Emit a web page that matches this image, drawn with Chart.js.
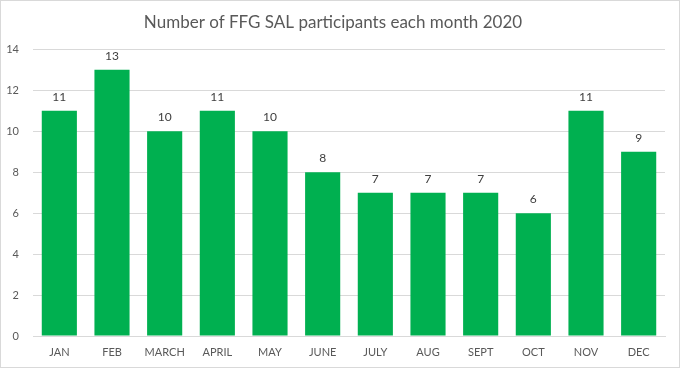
<!DOCTYPE html>
<html>
<head>
<meta charset="utf-8">
<script src="https://cdn.jsdelivr.net/npm/chart.js@4/dist/chart.umd.min.js"></script>
<style>
html,body{margin:0;padding:0;background:#fff;}
#wrap{width:678px;height:366px;border:1px solid #d9d9d9;position:relative;}
</style>
</head>
<body>
<div id="wrap"><canvas id="c" width="678" height="366"></canvas></div>
<script>
const months = ["JAN","FEB","MARCH","APRIL","MAY","JUNE","JULY","AUG","SEPT","OCT","NOV","DEC"];
const participants = [11,13,10,11,10,8,7,7,7,6,11,9];
const yTicks = [0,2,4,6,8,10,12,14];
const titleText = "Number of FFG SAL participants each month 2020";

const FONT = "Lato, 'Liberation Sans', sans-serif";

const labelPlugin = {
  id: 'barLabels',
  afterDatasetsDraw(chart) {
    const ctx = chart.ctx;
    const meta = chart.getDatasetMeta(0);
    ctx.save();
    ctx.font = "12px " + FONT;
    ctx.fillStyle = "#404040";
    ctx.textAlign = "center";
    ctx.textBaseline = "middle";
    meta.data.forEach((bar, i) => {
      ctx.fillText(String(chart.data.datasets[0].data[i]), bar.x, bar.y - 14);
    });
    ctx.restore();
  }
};

new Chart(document.getElementById('c'), {
  type: 'bar',
  data: {
    labels: months,
    datasets: [{
      data: participants,
      backgroundColor: '#00B050',
      barPercentage: 0.667,
      categoryPercentage: 1.0
    }]
  },
  options: {
    responsive: false,
    animation: false,
    layout: { padding: { left: 0, right: 14, top: 0, bottom: 0 } },
    plugins: {
      legend: { display: false },
      tooltip: { enabled: false },
      title: {
        display: true,
        text: titleText,
        color: '#595959',
        font: { family: FONT, size: 17, weight: 'normal' },
        padding: { top: 11, bottom: 17 }
      }
    },
    scales: {
      x: {
        grid: { display: false, drawTicks: false },
        border: { display: true, color: '#d9d9d9' },
        ticks: { color: '#595959', font: { family: FONT, size: 11 }, padding: 10, maxRotation: 0 },
        afterFit(scale) { scale.height = 31; }
      },
      y: {
        min: 0, max: 14,
        afterBuildTicks(scale) { scale.ticks = yTicks.map(v => ({ value: v })); },
        grid: { color: '#d9d9d9', drawTicks: false },
        border: { display: false },
        ticks: { color: '#595959', font: { family: FONT, size: 11 }, padding: 14 },
        afterFit(scale) { scale.width = 32; }
      }
    }
  },
  plugins: [labelPlugin]
});
</script>
</body>
</html>
